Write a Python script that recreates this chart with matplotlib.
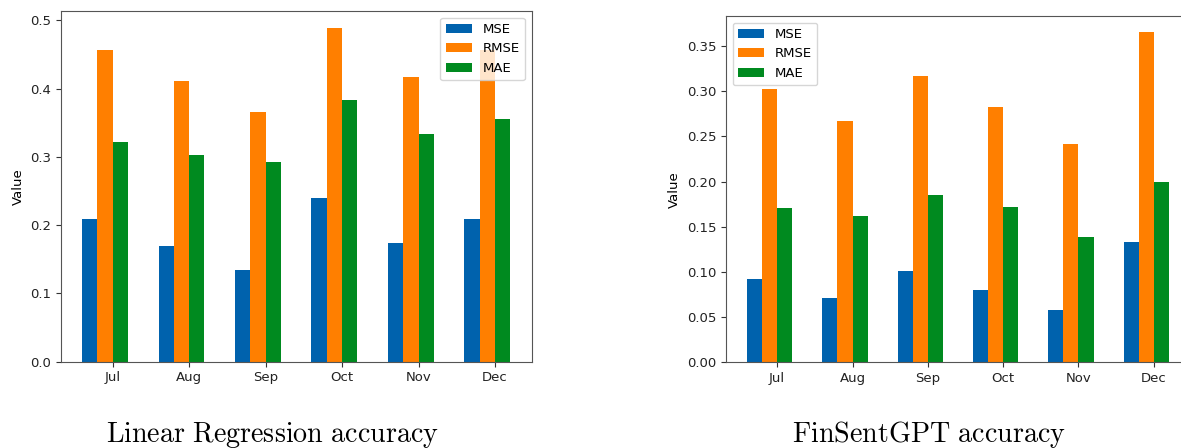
import numpy as np
import matplotlib
matplotlib.use("Agg")
import matplotlib.pyplot as plt

months = ["Jul", "Aug", "Sep", "Oct", "Nov", "Dec"]
metrics = ["MSE", "RMSE", "MAE"]

# Linear Regression
lr_mse = [0.209, 0.170, 0.134, 0.240, 0.174, 0.209]
lr_rmse = [0.457, 0.411, 0.365, 0.489, 0.417, 0.457]
lr_mae = [0.322, 0.303, 0.293, 0.383, 0.333, 0.356]

# FinSentGPT
fs_mse = [0.092, 0.071, 0.101, 0.080, 0.058, 0.133]
fs_rmse = [0.302, 0.267, 0.317, 0.282, 0.242, 0.365]
fs_mae = [0.171, 0.162, 0.185, 0.172, 0.139, 0.200]

colors = ["#0062ad", "#ff7f00", "#008a1f"]

plt.rcParams["font.size"] = 9.5
plt.rcParams["mathtext.fontset"] = "cm"


def draw(ax, series, legend_loc):
    x = np.arange(len(months))
    w = 0.2
    for k, (vals, name) in enumerate(zip(series, metrics)):
        ax.bar(x + (k - 1.5) * w, vals, w, color=colors[k], label=name)
    ax.set_xticks(x)
    ax.set_xticklabels(months)
    ax.set_ylabel("Value")
    for s in ax.spines.values():
        s.set_color("#555555")
    ax.tick_params(colors="#333333", labelcolor="#222222")
    ax.legend(loc=legend_loc)


fig = plt.figure(figsize=(11.81, 4.48), dpi=100)
ax1 = fig.add_axes([0.0514, 0.1926, 0.3988, 0.7828])
ax2 = fig.add_axes([0.6147, 0.1913, 0.3929, 0.7730])

draw(ax1, [lr_mse, lr_rmse, lr_mae], "upper right")
draw(ax2, [fs_mse, fs_rmse, fs_mae], "upper left")
ax1.set_yticks([0.0, 0.1, 0.2, 0.3, 0.4, 0.5])
ax2.set_yticks([0.0, 0.05, 0.10, 0.15, 0.20, 0.25, 0.30, 0.35])

fig.text(272 / 1181, 1 - 442 / 448, r"$\mathrm{Linear\ Regression\ accuracy}$",
         ha="center", va="baseline", fontsize=20.2)
fig.text(929 / 1181, 1 - 442 / 448, r"$\mathrm{FinSentGPT\ accuracy}$",
         ha="center", va="baseline", fontsize=20.2)

fig.savefig("out.png", dpi=100)
